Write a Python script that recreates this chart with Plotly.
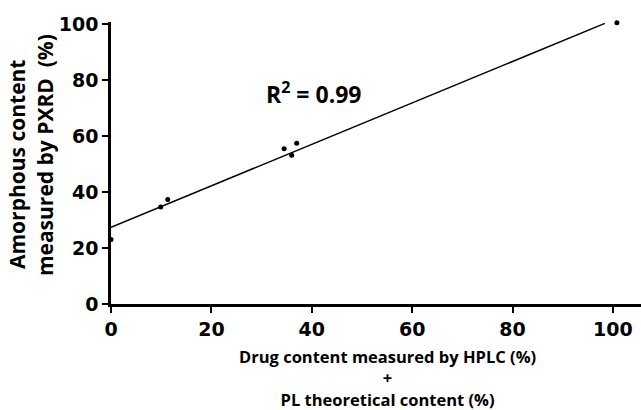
import plotly.graph_objects as go

# Data
x_vals = [0, 9.9, 11.3, 34.5, 36.0, 37.0, 100.8]
y_vals = [23.0, 34.6, 37.3, 55.4, 53.1, 57.4, 100.4]
fit_x = [0, 98.4]
fit_y = [27.4, 100.2]
tick_vals = [0, 20, 40, 60, 80, 100]
tick_text = ["0", "20", "40", "60", "80", "100"]
r2_text = "R<sup>2</sup> = 0.99"
x_title_lines = ["Drug content measured by HPLC (%)", "+", "PL theoretical content (%)"]
y_title_lines = ["Amorphous content", "measured by PXRD  (%)"]

fig = go.Figure()
fig.add_trace(go.Scatter(x=fit_x, y=fit_y, mode="lines",
                         line=dict(color="black", width=1.5),
                         showlegend=False, hoverinfo="skip", cliponaxis=False))
fig.add_trace(go.Scatter(x=x_vals, y=y_vals, mode="markers",
                         marker=dict(color="black", size=5),
                         showlegend=False, cliponaxis=False))

axis_common = dict(
    showgrid=False, zeroline=False, showline=True, linecolor="black", linewidth=2.5,
    ticks="outside", ticklen=6, tickwidth=2, tickcolor="black",
    tickvals=tick_vals, ticktext=tick_text,
    tickfont=dict(family="DejaVu Sans", size=19, color="black", weight="bold"),
)
fig.update_xaxes(range=[0, 105.6], **axis_common)
fig.update_yaxes(range=[0, 100.7], **axis_common)

title_font = dict(family="Open Sans", size=16.5, color="black", weight="bold")
fig.add_annotation(text="<br>".join(x_title_lines), xref="paper", yref="paper",
                   x=0.5226, y=0, xanchor="center", yanchor="middle", yshift=-74,
                   align="center", showarrow=False, font=title_font)

yfont = dict(family="Open Sans", size=21, color="black", weight="bold")
fig.add_annotation(text=y_title_lines[0], xref="paper", yref="paper", x=0, y=0.4947,
                   xanchor="center", yanchor="middle", xshift=-93.5, textangle=-90,
                   showarrow=False, font=yfont)
fig.add_annotation(text=y_title_lines[1], xref="paper", yref="paper", x=0, y=0.528,
                   xanchor="center", yanchor="middle", xshift=-66, textangle=-90,
                   showarrow=False, font=yfont)

fig.add_annotation(text=r2_text, x=40.5, y=75.5, xref="x", yref="y",
                   xanchor="center", yanchor="middle", showarrow=False,
                   font=dict(family="Open Sans", size=23, color="black", weight="bold"))

fig.update_layout(
    width=641, height=410,
    margin=dict(l=111, r=0, t=22, b=106),
    paper_bgcolor="white", plot_bgcolor="white",
)
fig.write_html("out.html")
